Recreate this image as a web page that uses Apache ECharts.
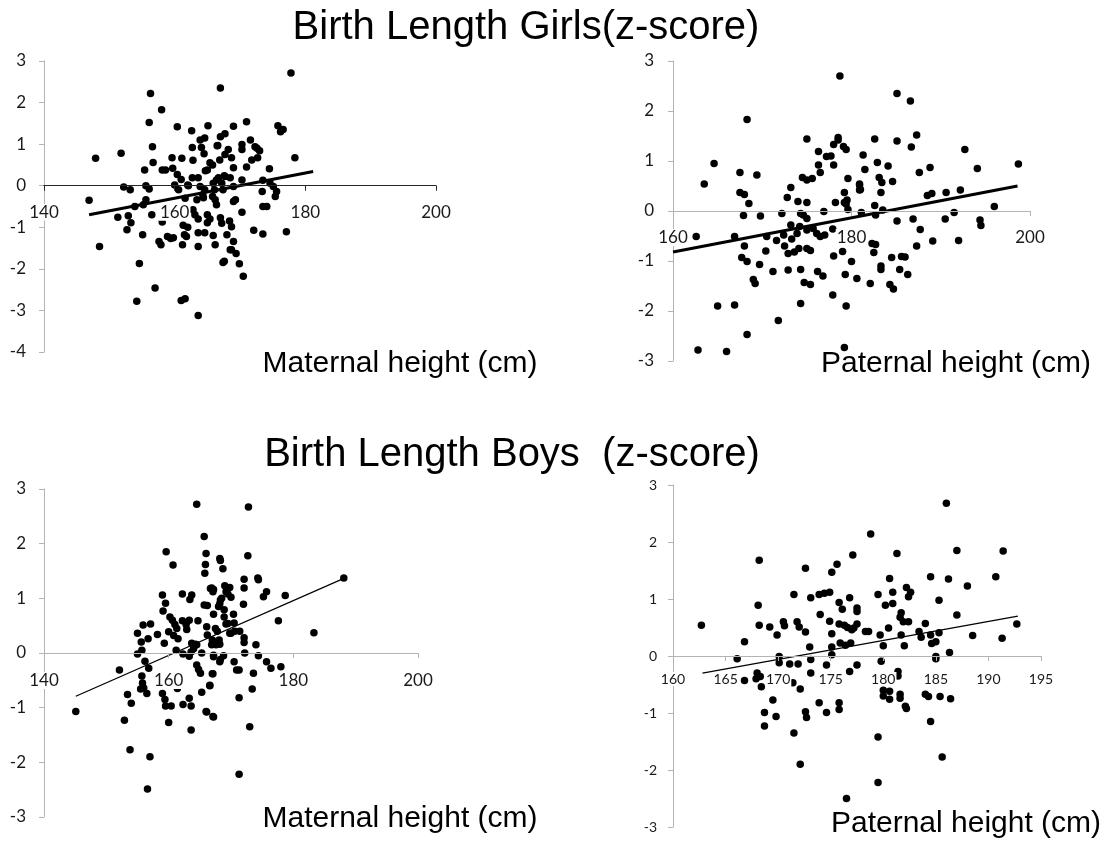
<!DOCTYPE html>
<html>
<head>
<meta charset="utf-8">
<script src="https://cdn.jsdelivr.net/npm/echarts@6/dist/echarts.min.js"></script>
<style>html,body{margin:0;padding:0;background:#fff}#c{width:1110px;height:850px}</style>
</head>
<body>
<div id="c"></div>
<script>
// ---- data (x = parental height cm, y = birth length z-score) ----
const girlsMaternal = [
[147.9,0.66],[151.8,0.78],[146.9,-0.35],[156.3,2.22],[158.0,1.83],[156.1,1.52],[167.0,2.35],[156.6,0.94],[156.7,0.56],[155.4,0.38],[158.1,0.38],[158.6,0.38],[159.6,0.67],[161.1,0.66],[159.7,0.42],[160.4,0.27],[160.4,1.42],[162.6,1.32],[165.1,1.44],[163.9,1.10],[164.6,1.15],[162.7,0.92],[164.1,0.92],[166.5,0.96],[167.0,1.18],[167.7,1.25],[162.8,0.61],[164.5,0.77],[165.4,0.55],[165.8,0.50],[166.9,0.62],[167.7,0.75],[162.7,0.19],[163.6,0.19],[164.7,0.36],[166.7,0.19],[167.6,0.24],[152.2,-0.03],[153.2,-0.10],[155.6,0.00],[156.1,-0.08],[160.0,0.02],[162.1,0.00],[155.6,-0.34],[153.9,-0.50],[155.2,-0.46],[151.3,-0.76],[152.9,-0.72],[153.3,-0.89],[156.5,-0.70],[158.1,-0.87],[163.4,-0.34],[164.4,-0.29],
[152.7,-1.06],[155.1,-1.18],[148.5,-1.46],[157.6,-1.34],[157.9,-1.42],[158.9,-1.22],[159.4,-1.27],[159.8,-1.25],[161.2,-1.42],[161.5,-1.18],[161.8,-1.22],[163.6,-1.46],[163.6,-1.13],[164.6,-1.13],[165.9,-1.20],[166.2,-1.42],[167.4,-1.85],[167.6,-1.82],[154.6,-1.87],[157.0,-2.46],[154.2,-2.78],[161.0,-2.76],[161.6,-2.72],[163.6,-3.12],[168.5,-1.54],[168.0,-1.18],
[177.8,2.71],[171.0,1.54],[175.8,1.44],[176.2,1.30],[176.6,1.35],[169.0,1.43],[171.6,1.10],[170.3,0.99],[170.3,0.87],[172.3,0.94],[173.0,0.84],[172.6,0.90],[166.6,0.97],[168.2,0.87],[172.7,0.67],[171.8,0.62],[178.4,0.67],[168.7,0.67],[171.0,0.45],[174.5,0.41],[169.0,0.43],[165.0,0.38],[170.3,0.14],[173.5,0.13],[167.7,0.22],[168.5,0.19],[166.4,0.14],[167.2,0.06],[174.6,0.06],[175.1,-0.02],[173.4,-0.14],[175.6,-0.14],[175.4,-0.26],[162.0,0.02],[163.9,-0.02],[164.6,-0.10],[164.3,-0.22],[165.9,0.06],[166.1,-0.10],[165.8,-0.26],[167.4,-0.10],[169.0,-0.02],[169.0,-0.38],[169.3,-0.34],[173.5,-0.50],[174.1,-0.50],[170.3,-0.64],[166.2,-0.34],[166.4,-0.46],[162.8,-0.58],[163.1,-0.70],[163.6,-0.80],[165.0,-0.70],[165.4,-0.80],[165.0,-0.89],[167.0,-0.77],[167.2,-0.90],[168.7,-0.99],[168.4,-0.85],[172.1,-1.07],[173.5,-1.16],[177.1,-1.11],[169.0,-1.34],[168.7,-1.54],[169.4,-1.63],[169.9,-1.88],[170.5,-2.18],[161.3,-0.95],[162.0,-1.00],[161.6,-0.30],[160.6,-0.10],[161.0,0.15]
];
const girlsPaternal = [
[163.5,0.54],[164.6,0.95],[168.3,1.83],[167.5,0.77],[167.5,0.37],[168.0,0.33],[169.4,0.72],[168.5,0.15],[167.9,-0.09],[169.8,-0.10],[172.2,-0.05],[173.2,0.47],[172.8,0.27],[174.0,0.19],[175.0,0.17],[174.3,-0.05],[175.0,-0.15],[174.6,-0.08],[174.5,0.67],[175.0,0.62],[175.6,0.65],[175.0,1.44],[176.3,1.19],[176.3,0.92],[176.5,0.77],[177.2,1.09],[177.7,1.10],[178.0,0.92],[178.0,1.33],[178.5,1.47],[178.5,1.42],[178.7,2.70],[179.1,1.29],[179.4,1.23],[179.6,0.65],[179.2,0.37],[178.2,0.17],[179.2,0.17],[179.5,0.22],[179.6,0.03],[176.9,-0.01],[180.9,0.52],[180.9,0.42],
[162.6,-0.51],[166.9,-0.51],[168.0,-0.70],[167.7,-0.93],[168.3,-1.01],[169.7,-1.07],[169.0,-1.37],[169.2,-1.45],[170.4,-0.80],[170.5,-0.51],[171.6,-0.59],[171.2,-1.21],[172.4,-0.48],[173.2,-0.28],[172.5,-0.70],[172.9,-0.85],[173.3,-0.56],[173.6,-0.82],[173.9,-0.45],[174.1,-0.75],[172.9,-1.18],[174.3,-1.17],[174.7,-1.43],[175.4,-1.47],[174.3,-1.85],[171.8,-2.19],[168.3,-2.47],[162.8,-2.78],[166.0,-2.81],[165.0,-1.90],[166.9,-1.88],[175.0,-0.75],[175.4,-0.79],[176.2,-1.21],[176.8,-1.30],[174.2,-0.31],[175.0,-0.38],[175.7,-0.35],[176.1,-0.45],[176.5,-0.51],[177.0,-0.48],[177.9,-1.68],[178.0,-0.90],[179.0,-0.81],[179.4,-1.90],[179.3,-1.27],[180.0,-1.01],[180.6,-1.35],[179.2,-2.73],[177.9,-0.36],
[185.1,2.35],[186.6,2.20],[187.3,1.52],[185.1,1.40],[182.6,1.44],[186.7,1.28],[192.7,1.23],[181.3,1.12],[182.9,0.97],[184.1,0.90],[181.5,0.83],[188.8,0.87],[194.1,0.85],[198.7,0.94],[187.6,0.77],[183.1,0.67],[183.4,0.57],[184.6,0.59],[180.9,0.54],[181.0,0.43],[183.3,0.37],[179.4,0.14],[188.5,0.31],[189.0,0.35],[190.6,0.37],[192.2,0.42],[196.0,0.09],[181.1,-0.03],[182.6,0.11],[182.7,-0.08],[183.5,0.02],[185.1,-0.20],[186.9,-0.16],[187.7,-0.37],[190.5,-0.16],[191.5,-0.03],[194.4,-0.18],[194.5,-0.29],[182.3,-0.65],[182.7,-0.67],[182.5,-0.83],[182.1,-1.45],[183.3,-1.10],[183.3,-1.17],[184.5,-0.93],[185.6,-0.91],[186.0,-0.92],[185.4,-1.17],[186.3,-1.27],[184.3,-1.47],[184.7,-1.56],[187.3,-0.70],[189.1,-0.60],[192.0,-0.59]
];
const boysMaternal = [
[164.5,2.72],[165.7,2.13],[159.6,1.85],[160.7,1.61],[166.0,1.82],[165.9,1.62],[165.8,1.46],[168.2,1.73],[168.3,1.69],[168.7,1.54],[159.0,1.06],[159.5,0.91],[162.2,1.08],[163.7,1.06],[163.4,0.98],[159.1,0.77],[165.7,0.88],[166.2,0.87],[166.7,1.18],[167.1,1.12],[168.2,0.90],[168.5,1.00],[169.2,1.12],[169.8,1.20],[167.2,0.71],[168.9,0.79],[168.9,0.66],[160.2,0.66],[160.6,0.60],[161.0,0.52],[161.3,0.45],[162.2,0.59],[162.8,0.52],[163.3,0.60],[164.7,0.59],[155.9,0.51],[157.1,0.53],[155.0,0.36],[158.2,0.34],[156.7,0.26],[155.6,0.20],[160.0,0.39],[160.8,0.32],[161.5,0.26],[159.3,0.18],[163.7,0.18],[164.5,0.15],[162.9,0.43],[166.1,0.48],[166.2,0.33],[167.0,0.24],[167.5,0.45],[167.8,0.40],[168.1,0.24],[167.6,0.15],[169.5,0.54],[169.8,0.36],
[145.1,-1.07],[152.1,-0.31],[153.4,-0.76],[154.0,-0.92],[152.9,-1.23],[153.8,-1.77],[157.0,-1.90],[156.6,-2.49],[155.0,-0.02],[155.7,0.05],[156.2,-0.15],[156.8,-0.28],[155.7,-0.42],[155.8,-0.55],[156.0,-0.64],[155.5,-0.66],[156.5,-0.74],[159.0,-0.74],[159.4,-0.85],[159.5,-0.97],[160.4,-0.97],[160.0,-1.27],[162.3,-0.94],[163.3,-0.83],[163.6,-0.97],[163.6,-1.41],[161.2,0.05],[162.3,-0.02],[163.3,-0.06],[163.6,0.02],[164.0,0.08],[164.3,0.16],[164.5,-0.22],[164.8,-0.30],[165.1,-0.37],[165.3,0.00],[165.3,-0.72],[166.0,-1.07],[167.2,-1.17],[166.6,-0.59],[167.1,-0.38],[167.2,-0.04],[168.2,-0.16],[168.8,-0.05],[166.9,0.15],[168.2,0.16],[161.4,-0.65],
[172.8,2.67],[172.7,1.78],[172.1,1.35],[172.1,1.19],[174.3,1.37],[174.4,1.34],[175.7,1.12],[175.2,1.03],[178.7,1.05],[177.6,0.59],[183.3,0.37],[188.1,1.37],[172.0,0.89],[169.0,1.23],[169.5,1.08],[170.0,1.02],[166.9,1.19],[167.2,1.16],[168.3,0.97],[168.0,0.85],[170.4,0.71],[169.2,0.53],[170.5,0.55],[170.0,0.36],[170.6,0.40],[171.4,0.40],[172.1,0.28],[172.1,0.19],[174.0,0.15],[172.2,0.00],[174.4,-0.05],[167.2,-0.07],[168.3,-0.12],[170.5,-0.16],[170.9,-0.31],[171.3,-0.31],[173.6,-0.37],[175.7,-0.16],[176.4,-0.28],[178.0,-0.25],[167.0,-0.38],[166.6,-0.60],[173.4,-0.66],[171.3,-0.82],[166.1,-1.08],[167.1,-1.16],[173.0,-1.35],[171.3,-2.22]
];
const boysPaternal = [
[162.7,0.54],[168.2,1.68],[168.1,0.89],[168.2,0.54],[169.2,0.51],[169.9,0.37],[166.8,0.25],[170.5,0.60],[170.6,0.53],[171.8,0.60],[172.0,0.51],[171.5,1.08],[172.6,1.54],[172.6,0.42],[173.1,1.02],[173.9,1.08],[174.4,1.10],[174.9,1.12],[174.0,0.73],[174.9,0.61],[175.1,1.47],[175.6,1.61],[175.8,0.94],[176.1,0.82],[175.8,0.56],[176.3,0.54],[175.1,0.39],[176.8,1.02],[177.1,1.77],[177.5,0.84],[177.5,0.78],[177.2,0.49],[177.5,0.56],[173.0,0.16],[175.1,0.16],[175.9,0.23],[176.9,0.23],[176.4,0.19],
[166.1,-0.05],[166.8,-0.43],[168.0,-0.30],[168.3,-0.36],[167.9,-0.40],[168.4,-0.54],[169.5,-0.77],[168.7,-0.99],[169.8,-1.06],[168.7,-1.23],[170.1,-0.01],[170.1,-0.12],[171.1,-0.14],[171.9,-0.14],[171.4,-0.47],[172.1,-0.58],[171.5,-1.35],[172.1,-1.90],[172.6,-0.98],[172.7,-1.08],[173.1,-0.06],[173.1,-0.30],[173.9,-0.82],[174.6,-0.99],[174.6,-0.16],[175.1,0.02],[175.8,-0.82],[175.8,-0.94],[176.5,-2.50],[176.8,-0.27],[177.5,-0.16],
[186.0,2.68],[178.8,2.14],[187.0,1.85],[191.4,1.84],[181.3,1.80],[180.6,1.36],[184.5,1.39],[186.2,1.35],[190.7,1.39],[188.0,1.23],[179.5,1.08],[180.9,1.12],[180.9,0.92],[180.2,0.89],[182.2,1.20],[182.6,1.12],[182.4,1.04],[185.3,0.98],[181.7,0.76],[181.6,0.68],[181.9,0.60],[182.4,0.60],[187.0,0.72],[176.6,0.50],[177.0,0.46],[178.3,0.43],[178.6,0.43],[184.0,0.57],[180.5,0.49],[179.7,0.37],[181.7,0.37],[183.4,0.43],[183.6,0.33],[184.5,0.37],[185.3,0.41],[184.6,0.22],[185.0,0.25],[188.5,0.36],[191.3,0.31],[192.7,0.56],[180.0,0.18],[182.0,0.18],[185.0,-0.01],[185.0,-0.05],[186.3,0.06],[179.8,-0.09],[181.4,-0.27],[181.4,-0.35],[180.0,-0.60],[180.6,-0.62],[180.0,-0.70],[180.6,-0.76],[181.6,-0.67],[181.6,-0.74],[182.1,-0.88],[182.2,-0.92],[184.0,-0.67],[184.3,-0.71],[185.4,-0.71],[186.4,-0.75],[184.5,-1.15],[179.5,-1.42],[185.6,-1.77],[179.5,-2.22]
];
// linear trend lines (end points)
const trendGirlsMaternal = [[146.9,-0.70],[181.2,0.34]];
const trendGirlsPaternal = [[160.0,-0.82],[198.6,0.50]];
const trendBoysMaternal  = [[145.1,-0.79],[188.2,1.37]];
const trendBoysPaternal  = [[162.8,-0.30],[192.8,0.70]];
// axis ranges [min, max, interval]
const xRanges = [[140,200,20],[160,200,20],[140,200,20],[160,195,5]];
const yRanges = [[-4,3],[-3,3],[-3,3],[-3,3]];
const titles = ['Birth Length Girls(z-score)','Birth Length Boys  (z-score)'];
const axisTitles = ['Maternal height (cm)','Paternal height (cm)','Maternal height (cm)','Paternal height (cm)'];

const panels = [
  {data: girlsMaternal, trend: trendGirlsMaternal, grid:{left:44,top:61,width:392,height:291}, lw:3, fs:17, xColor:'#262626', xm:18, ym:18},
  {data: girlsPaternal, trend: trendGirlsPaternal, grid:{left:673,top:61,width:357,height:300}, lw:3, fs:17, xColor:'#b3b3b3', xm:18, ym:19},
  {data: boysMaternal,  trend: trendBoysMaternal,  grid:{left:44,top:489,width:374,height:328}, lw:1.2, fs:17, xColor:'#b3b3b3', xm:19, ym:18},
  {data: boysPaternal,  trend: trendBoysPaternal,  grid:{left:673,top:485,width:368,height:342}, lw:1.2, fs:14, xColor:'#b3b3b3', xm:16, ym:16}
];

// the x axis sits on the y = 0 line: shift it up from the grid bottom
function zeroOffset(i){
  const h = panels[i].grid.height, lo = yRanges[i][0], hi = yRanges[i][1];
  return -h * (0 - lo) / (hi - lo);
}

const lab = '#1a1a1a';
const option = {
  animation:false,
  backgroundColor:'#fff',
  grid: panels.map(p=>Object.assign({containLabel:false}, p.grid)),
  xAxis: panels.map((p,i)=>({
    type:'value', gridIndex:i, position:'bottom', offset: zeroOffset(i),
    min:xRanges[i][0], max:xRanges[i][1], interval:xRanges[i][2], z:3,
    axisLine:{show:true, onZero:false, lineStyle:{color:p.xColor, width:1}},
    axisTick:{show:true, length:5, lineStyle:{color:p.xColor}},
    axisLabel:{fontFamily:'Lato', fontSize:p.fs, color:lab, margin:p.xm, backgroundColor:'#fff', padding:[0,1]},
    splitLine:{show:false}
  })),
  yAxis: panels.map((p,i)=>({
    type:'value', gridIndex:i, min:yRanges[i][0], max:yRanges[i][1], interval:1,
    axisLine:{show:true, onZero:false, lineStyle:{color:'#b3b3b3', width:1}},
    axisTick:{show:true, length:5, lineStyle:{color:'#b3b3b3'}},
    axisLabel:{fontFamily:'Lato', fontSize:p.fs, color:lab, margin:p.ym},
    splitLine:{show:false}
  })),
  series: panels.flatMap((p,i)=>[
    {type:'scatter', xAxisIndex:i, yAxisIndex:i, data:p.data, symbol:'circle', symbolSize:7.5,
     itemStyle:{color:'#000', opacity:1}, z:2, silent:true},
    {type:'line', xAxisIndex:i, yAxisIndex:i, data:p.trend, showSymbol:false, symbol:'none',
     lineStyle:{color:'#000', width:p.lw}, z:2, silent:true}
  ]),
  graphic:[
    {type:'text', x:526, y:28, style:{text:titles[0], font:'40px "Liberation Sans", Arial, sans-serif', fill:'#000', textAlign:'center', textVerticalAlign:'middle'}},
    {type:'text', x:512, y:455, style:{text:titles[1], font:'40px "Liberation Sans", Arial, sans-serif', fill:'#000', textAlign:'center', textVerticalAlign:'middle'}},
    {type:'text', x:400, y:364, style:{text:axisTitles[0], font:'30px "Liberation Sans", Arial, sans-serif', fill:'#000', textAlign:'center', textVerticalAlign:'middle'}},
    {type:'text', x:956, y:364, style:{text:axisTitles[1], font:'30px "Liberation Sans", Arial, sans-serif', fill:'#000', textAlign:'center', textVerticalAlign:'middle'}},
    {type:'text', x:400, y:819, style:{text:axisTitles[2], font:'30px "Liberation Sans", Arial, sans-serif', fill:'#000', textAlign:'center', textVerticalAlign:'middle'}},
    {type:'text', x:966, y:824, style:{text:axisTitles[3], font:'30px "Liberation Sans", Arial, sans-serif', fill:'#000', textAlign:'center', textVerticalAlign:'middle'}}
  ]
};
const chart = echarts.init(document.getElementById('c'), null, {renderer:'canvas'});
chart.setOption(option);
</script>
</body>
</html>
